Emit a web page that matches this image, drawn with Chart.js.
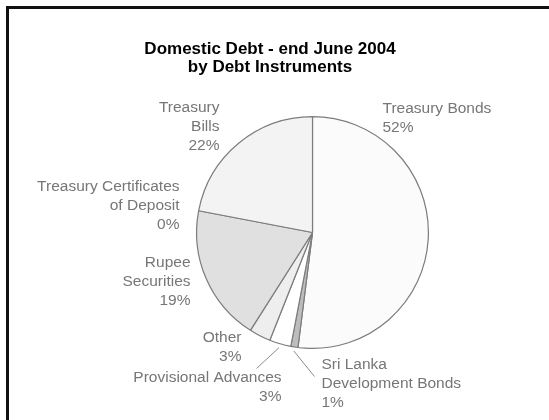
<!DOCTYPE html>
<html>
<head>
<meta charset="utf-8">
<title>Domestic Debt - end June 2004</title>
<script src="https://cdn.jsdelivr.net/npm/chart.js@4.4.1/dist/chart.umd.min.js"></script>
<style>
  html, body { margin: 0; padding: 0; background: #fff; overflow: hidden; }
  #wrap { position: relative; width: 549px; height: 420px; }
  #frame {
    position: absolute; left: 6px; top: 6px; right: -20px; bottom: -20px;
    border-left: 3px solid #111; border-top: 3px solid #111;
    pointer-events: none;
  }
  canvas { position: absolute; left: 0; top: 0; }
</style>
</head>
<body>
<div id="wrap">
  <canvas id="debt_chart" width="549" height="420"></canvas>
  <div id="frame"></div>
</div>
<script>
const titleLines = ['Domestic Debt - end June 2004', 'by Debt Instruments'];

const instruments = [
  'Treasury Bonds',
  'Sri Lanka Development Bonds',
  'Provisional Advances',
  'Other',
  'Rupee Securities',
  'Treasury Certificates of Deposit',
  'Treasury Bills'
];
const shares = [52, 1, 3, 3, 19, 0, 22];

// how each name is broken over lines next to its slice
const nameLines = [
  ['Treasury Bonds'],
  ['Sri Lanka', 'Development Bonds'],
  ['Provisional Advances'],
  ['Other'],
  ['Rupee', 'Securities'],
  ['Treasury Certificates', 'of Deposit'],
  ['Treasury', 'Bills']
];

const fills = ['#fbfbfb', '#bdbdbd', '#ffffff', '#eeeeee', '#e0e0e0', '#e8e8e8', '#f3f3f3'];

// label anchors relative to the pie centre; lead = end of the leader line
const labelSpots = [
  { dx: 70, dy: -124, align: 'left' },
  { dx: 9, dy: 132, align: 'left', lead: [2, 144] },
  { dx: -31, dy: 145, align: 'right', lead: [-56, 136] },
  { dx: -71, dy: 105, align: 'right' },
  { dx: -122, dy: 30, align: 'right' },
  { dx: -133, dy: -46, align: 'right' },
  { dx: -93, dy: -125, align: 'right' }
];

const LABEL_FONT = '15.5px "Liberation Sans", Arial, sans-serif';
const TITLE_FONT = 'bold 17px "Liberation Sans", Arial, sans-serif';
const LINE_H = 19.2;

const pieText = {
  id: 'pieText',
  afterDatasetsDraw(chart) {
    const ctx = chart.ctx;
    const arcs = chart.getDatasetMeta(0).data;

    ctx.save();
    ctx.fillStyle = '#000';
    ctx.font = TITLE_FONT;
    ctx.textAlign = 'center';
    ctx.textBaseline = 'middle';
    titleLines.forEach((t, i) => ctx.fillText(t, 270, 49 + i * 18));

    ctx.font = LABEL_FONT;
    ctx.fillStyle = '#767676';
    ctx.strokeStyle = '#8a8a8a';
    ctx.lineWidth = 1;

    arcs.forEach((arc, i) => {
      const { x, y, startAngle, endAngle, outerRadius } = arc.getProps(
        ['x', 'y', 'startAngle', 'endAngle', 'outerRadius'], true);
      const spot = labelSpots[i];
      const lines = nameLines[i].concat(shares[i] + '%');

      ctx.textAlign = spot.align;
      lines.forEach((t, k) => ctx.fillText(t, x + spot.dx, y + spot.dy + k * LINE_H));

      if (spot.lead) {
        const mid = (startAngle + endAngle) / 2;
        const r = outerRadius + 4;
        ctx.beginPath();
        ctx.moveTo(x + Math.cos(mid) * r, y + Math.sin(mid) * r);
        ctx.lineTo(x + spot.lead[0], y + spot.lead[1]);
        ctx.stroke();
      }
    });
    ctx.restore();
  }
};

new Chart(document.getElementById('debt_chart'), {
  type: 'pie',
  data: {
    labels: instruments,
    datasets: [{
      data: shares,
      backgroundColor: fills,
      borderColor: '#7c7c7c',
      borderWidth: 1.2
    }]
  },
  options: {
    responsive: false,
    animation: false,
    layout: {
      padding: { left: 196, right: 120, top: 116, bottom: 71 }
    },
    plugins: {
      legend: { display: false },
      title: { display: false },
      tooltip: { enabled: false }
    }
  },
  plugins: [pieText]
});
</script>
</body>
</html>
